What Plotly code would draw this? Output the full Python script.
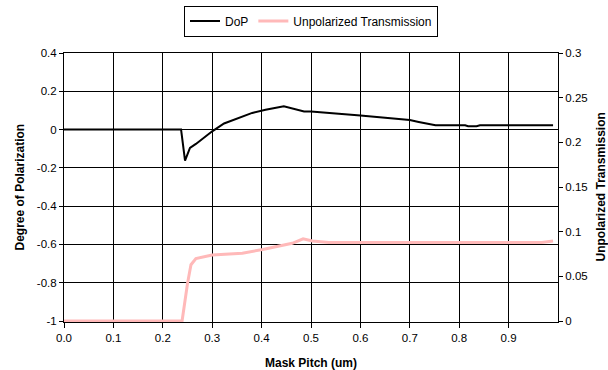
import plotly.graph_objects as go

# Degree of polarization vs. mask pitch (left axis)
dop_pitch = [0.00, 0.237, 0.245, 0.255, 0.267, 0.300, 0.324, 0.355, 0.381, 0.408,
             0.445, 0.486, 0.500, 0.600, 0.700, 0.718, 0.752, 0.812, 0.818, 0.835,
             0.842, 0.990]
dop_values = [0.0, 0.0, -0.162, -0.096, -0.075, -0.009, 0.032, 0.061, 0.087, 0.104,
              0.122, 0.095, 0.094, 0.074, 0.050, 0.040, 0.023, 0.023, 0.018, 0.018,
              0.023, 0.023]

# Unpolarized transmission vs. mask pitch (right axis)
trans_pitch = [0.00, 0.239, 0.250, 0.257, 0.267, 0.300, 0.361, 0.402, 0.462, 0.484,
               0.503, 0.536, 0.967, 0.990]
trans_values = [0.0, 0.0, 0.042, 0.063, 0.070, 0.074, 0.076, 0.080, 0.087, 0.092,
                0.0896, 0.088, 0.088, 0.0896]

x_ticks = [0.0, 0.1, 0.2, 0.3, 0.4, 0.5, 0.6, 0.7, 0.8, 0.9]
x_labels = ["0.0", "0.1", "0.2", "0.3", "0.4", "0.5", "0.6", "0.7", "0.8", "0.9"]
y1_ticks = [-1.0, -0.8, -0.6, -0.4, -0.2, 0.0, 0.2, 0.4]
y1_labels = ["-1", "-0.8", "-0.6", "-0.4", "-0.2", "0", "0.2", "0.4"]
y2_ticks = [0.0, 0.05, 0.10, 0.15, 0.20, 0.25, 0.30]
y2_labels = ["0", "0.05", "0.1", "0.15", "0.2", "0.25", "0.3"]

FONT = "Liberation Sans, Arial, sans-serif"
TICK_SIZE = 11.5
TITLE_SIZE = 12

# small downward pad so the zero-level pink line is not clipped at the frame
pad1 = 0.005
pad2 = 0.3 * pad1 / 1.4

fig = go.Figure()
fig.add_trace(go.Scatter(
    x=dop_pitch, y=dop_values, name="DoP", mode="lines",
    line=dict(color="black", width=2), yaxis="y"))
fig.add_trace(go.Scatter(
    x=trans_pitch, y=trans_values, name="Unpolarized Transmission", mode="lines",
    line=dict(color="#FFB9B9", width=3), yaxis="y2"))

fig.update_layout(
    width=608, height=370,
    margin=dict(l=64, r=50, t=53, b=48),
    paper_bgcolor="white", plot_bgcolor="white",
    font=dict(family=FONT, size=TICK_SIZE, color="black"),
    showlegend=True,
    legend=dict(
        orientation="h", xref="paper", x=0.5, xanchor="center",
        yref="container", y=0.985, yanchor="top",
        bordercolor="black", borderwidth=1, font=dict(size=TITLE_SIZE, color="black"),
        bgcolor="white", itemwidth=30, tracegroupgap=0),
    xaxis=dict(
        range=[0, 1.0], tickvals=x_ticks, ticktext=x_labels,
        showgrid=True, gridcolor="black", gridwidth=1,
        showline=True, linecolor="black", linewidth=1, mirror=True,
        ticks="outside", ticklen=5, tickcolor="black", zeroline=False,
        layer="below traces", automargin=False),
    yaxis=dict(
        range=[-1 - pad1, 0.4], tickvals=y1_ticks, ticktext=y1_labels,
        showgrid=True, gridcolor="black", gridwidth=1,
        showline=True, linecolor="black", linewidth=1,
        ticks="outside", ticklen=4, tickcolor="black", zeroline=False,
        layer="below traces", automargin=False),
    yaxis2=dict(
        range=[-pad2, 0.3], tickvals=y2_ticks, ticktext=y2_labels,
        overlaying="y", side="right", showgrid=False,
        showline=True, linecolor="black", linewidth=1,
        ticks="outside", ticklen=4, tickcolor="black", zeroline=False,
        layer="below traces", automargin=False),
    annotations=[
        dict(text="<b>Degree of Polarization</b>", xref="paper", yref="paper",
             x=0, y=0.5, xshift=-45, textangle=-90, showarrow=False,
             xanchor="center", yanchor="middle", font=dict(size=TITLE_SIZE)),
        dict(text="<b>Unpolarized Transmission</b>", xref="paper", yref="paper",
             x=1, y=0.5, xshift=42, textangle=-90, showarrow=False,
             xanchor="center", yanchor="middle", font=dict(size=TITLE_SIZE)),
        dict(text="<b>Mask Pitch (um)</b>", xref="paper", yref="paper",
             x=0.5, y=0, yshift=-41, showarrow=False,
             xanchor="center", yanchor="middle", font=dict(size=TITLE_SIZE)),
    ],
)

fig.write_html("out.html")
